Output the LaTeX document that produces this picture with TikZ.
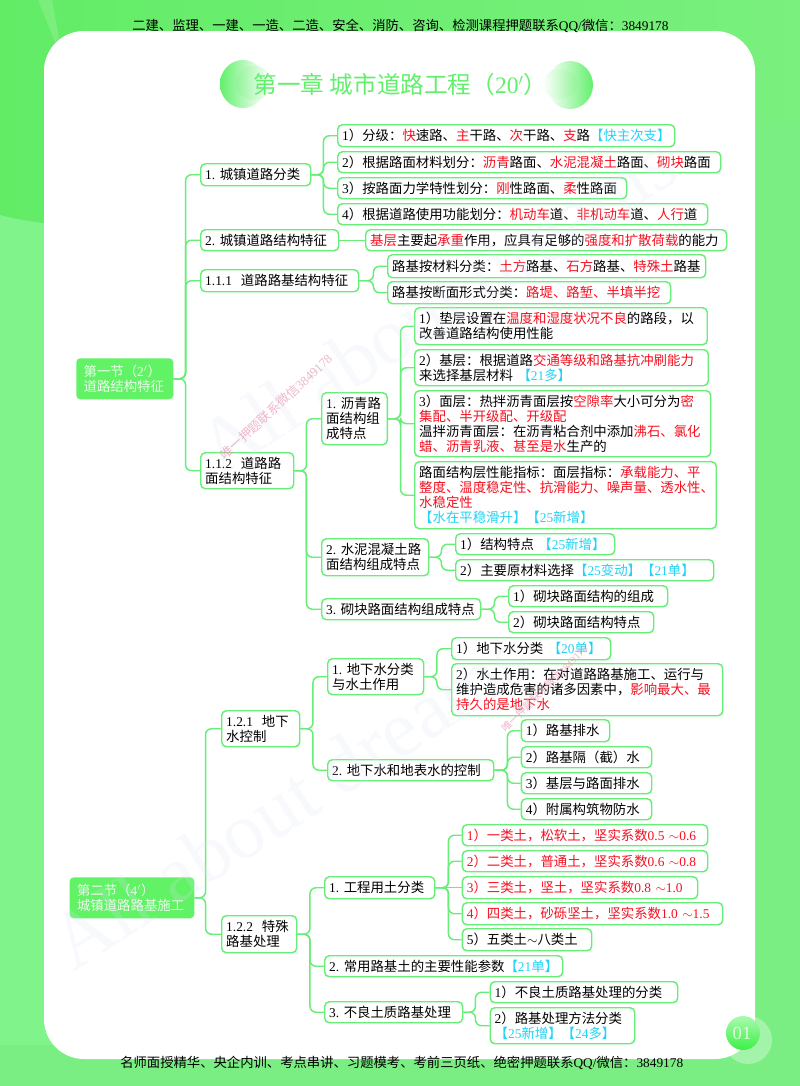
\documentclass[tikz,border=0pt]{standalone}
\usepackage{fontspec}
\setmainfont{Noto Sans CJK SC}
\newfontfamily\latf{Liberation Serif}
\usetikzlibrary{calc}
\definecolor{gline}{HTML}{66EE77}
\definecolor{gtitle}{HTML}{62F06C}
\definecolor{glabel}{HTML}{62F266}
\definecolor{rdc}{HTML}{F5101F}
\definecolor{cyc}{HTML}{22D3F5}
\definecolor{pinkw}{HTML}{E8A0B8}
\definecolor{faintw}{HTML}{D8E4F4}
\newcommand{\nm}[1]{{\latf #1}}
\newcommand{\rd}[1]{\textcolor{rdc}{#1}}
\newcommand{\cy}[1]{\textcolor{cyc}{#1}}
\newcommand{\rn}[1]{\textcolor{rdc}{\latf #1}}
\newcommand{\bodyf}{\fontsize{10.05}{11.25}\selectfont\lineskiplimit=-30pt\lineskip=0pt\relax}
\newcommand{\bx}[6]{%
  \pgfmathsetmacro\bxw{(#4-#2)*0.75}%
  \pgfmathsetmacro\bxh{(#5-#3)*0.75}%
  \pgfmathsetmacro\bxt{(#4-#2-9)*0.75}%
  \node[boxn,minimum width=\bxw pt,minimum height=\bxh pt,text width=\bxt pt] (#1) at (#2,#3) {#6};}
\newcommand{\lab}[6]{%
  \pgfmathsetmacro\bxw{(#4-#2)*0.75}%
  \pgfmathsetmacro\bxh{(#5-#3)*0.75}%
  \pgfmathsetmacro\bxt{(#4-#2-12)*0.75}%
  \node[labn,minimum width=\bxw pt,minimum height=\bxh pt,text width=\bxt pt] (#1) at (#2,#3) {#6};}
\newcommand{\lk}[3]{\draw[linkl] (#1.east) -- ++(#3,0) |- (#2.west);}
\tikzset{
  boxn/.style={draw=gline,line width=1.1pt,rounded corners=3.5pt,fill=white,anchor=north west,
    align=left,inner sep=0pt,text=black,font=\bodyf},
  labn/.style={fill=glabel,rounded corners=3pt,anchor=north west,align=left,inner sep=0pt,
    text=white!88!glabel,font=\bodyf},
  linkl/.style={draw=gline,line width=1.1pt,rounded corners=4.5pt},
  hdr/.style={anchor=west,inner sep=0pt,text=black,font=\fontsize{10}{12}\selectfont},
  mark1/.style={rotate=33,anchor=west,inner sep=0pt,text=faintw,opacity=.2,font=\latf\fontsize{60}{60}\selectfont},
  mark2/.style={rotate=43,anchor=west,inner sep=0pt,text=pinkw,opacity=.75,font=\fontsize{9.6}{10}\selectfont},
  mark3/.style={rotate=45,anchor=west,inner sep=0pt,text=pinkw,opacity=.75,font=\fontsize{7.6}{10}\selectfont},
}
\begin{document}
\begin{tikzpicture}[x=0.75pt,y=-0.75pt]
\useasboundingbox (0,0) rectangle (800,1086);
% background
\fill[fill={rgb,255:red,122;green,238;blue,130}] (0,0) rectangle (800,1086);
\fill[fill={rgb,255:red,128;green,244;blue,138}] (0,215) rectangle (60,1045);
\shade[left color={rgb,255:red,98;green,236;blue,102},right color={rgb,255:red,122;green,240;blue,126}]
  (0,0) -- (800,0) -- (800,120) -- (60,225) .. controls (40,223) and (20,220) .. (0,215) -- cycle;
\fill[white,opacity=.15] (38,0) -- (52,0) -- (59,38) -- (55,42) -- cycle;
\fill[white] (44,71) arc[start angle=180,end angle=270,radius=40] -- (715,31) arc[start angle=-90,end angle=0,radius=40]
  -- (755,1019) arc[start angle=0,end angle=90,radius=40] -- (84,1059) arc[start angle=90,end angle=180,radius=40] -- cycle;
% header and footer
\node[hdr] (hd) at (132,26) {二建、监理、一建、一造、二造、安全、消防、咨询、检测课程押题联系\nm{QQ/}微信：\nm{3849178}};
\node[hdr] (ft) at (120,1063) {名师面授精华、央企内训、考点串讲、习题模考、考前三页纸、绝密押题联系\nm{QQ/}微信：\nm{3849178}};
% title ornaments
\shade[left color=gtitle,right color=white] (243,84) ellipse (23 and 24);
\shade[left color=gtitle!70,right color=white] (254,83) ellipse (18 and 17);
\shade[right color=gtitle,left color=white] (570,85) ellipse (23 and 24);
\shade[right color=gtitle!70,left color=white] (560,84) ellipse (17 and 15);
\node[anchor=center,inner sep=0pt,text=gtitle,font=\fontsize{17.7}{20}\selectfont] (title) at (400.5,85) {第一章 城市道路工程（\nm{20$'$}）};
% page mark
\fill[white,opacity=.32] (748,1040) circle (24);
\shade[top color={rgb,255:red,170;green,250;blue,175},bottom color={rgb,255:red,60;green,240;blue,70}] (743,1033) circle (17);
\node[inner sep=0pt,text=white!85!green,font=\latf\fontsize{14}{14}\selectfont] (pg) at (742,1033) {01};
% labels
\lab{s1}{76}{358}{173}{399}{\hspace*{1pt}第一节（\nm{2$'$}）\\\hspace*{1pt}道路结构特征}
\lab{s2}{69.4}{877}{194}{918}{\hspace*{1pt}第二节（\nm{4$'$}）\\\hspace*{1pt}城镇道路路基施工}
% section one
\bx{a1}{200}{163}{310}{185}{\nm{1.~}城镇道路分类}
\bx{a11}{337}{124}{674}{146}{\nm{1}）分级：\rd{快}速路、\rd{主}干路、\rd{次}干路、\rd{支}路\cy{【快主次支】}}
\bx{a12}{337}{151}{720}{172}{\nm{2}）根据路面材料划分：\rd{沥青}路面、\rd{水泥混凝土}路面、\rd{砌块}路面}
\bx{a13}{337}{177}{626}{198}{\nm{3}）按路面力学特性划分：\rd{刚}性路面、\rd{柔}性路面}
\bx{a14}{337}{203}{707}{224}{\nm{4}）根据道路使用功能划分：\rd{机动车}道、\rd{非机动车}道、\rd{人行}道}
\bx{a2}{200}{229}{338}{250}{\nm{2.~}城镇道路结构特征}
\bx{a21}{365}{229}{726}{250}{\rd{基层}主要起\rd{承重}作用，应具有足够的\rd{强度和扩散荷载}的能力}
\bx{a3}{200}{269}{358}{291}{\nm{1.1.1~~}道路路基结构特征}
\bx{a31}{387}{254}{705}{277}{路基按材料分类：\rd{土方}路基、\rd{石方}路基、\rd{特殊土}路基}
\bx{a32}{387}{281}{670}{303}{路基按断面形式分类：\rd{路堤、路堑、半填半挖}}
\bx{a4}{200}{452}{293}{488}{\nm{1.1.2~~}道路路\\面结构特征}
\bx{b1}{321}{392}{386.6}{444}{\nm{1.~}沥青路\\面结构组\\成特点}
\bx{b11}{414}{307}{706.5}{344}{\nm{1}）垫层设置在\rd{温度和湿度状况不良}的路段，以\\改善道路结构使用性能}
\bx{b12}{414}{349}{707.5}{385}{\nm{2}）基层：根据道路\rd{交通等级和路基抗冲刷能力}\\来选择基层材料\nm{~}\cy{【\nm{21}多】}}
\bx{b13}{414}{390}{710}{456}{\nm{3}）面层：热拌沥青面层按\rd{空隙率}大小可分为\rd{密}\\\rd{集配、半开级配、开级配}\\温拌沥青面层：在沥青粘合剂中添加\rd{沸石、氯化}\\\rd{蜡、沥青乳液、甚至是水}生产的}
\bx{b14}{414}{461}{715.5}{528}{路面结构层性能指标：面层指标：\rd{承载能力、平}\\\rd{整度、温度稳定性、抗滑能力、噪声量、透水性、}\\\rd{水稳定性}\\\cy{【水在平稳滑升】【\nm{25}新增】}}
\bx{b2}{321}{538}{428}{575}{\nm{2.~}水泥混凝土路\\面结构组成特点}
\bx{b21}{455}{533}{614}{554}{\nm{1}）结构特点\nm{~}\cy{【\nm{25}新增】}}
\bx{b22}{455}{559}{713}{580}{\nm{2}）主要原材料选择\cy{【\nm{25}变动】【\nm{21}单】}}
\bx{b3}{321}{598}{480}{619}{\nm{3.~}砌块路面结构组成特点}
\bx{b31}{508}{585}{667}{606}{\nm{1}）砌块路面结构的组成}
\bx{b32}{508}{611}{653}{632}{\nm{2}）砌块路面结构特点}
% section two
\bx{c1}{221}{710}{299}{746}{\nm{1.2.1~~}地下\\水控制}
\bx{d1}{327}{658}{423}{694}{\nm{1.~}地下水分类\\与水土作用}
\bx{d11}{451}{637}{610}{659}{\nm{1}）地下水分类\nm{~}\cy{【\nm{20}单】}}
\bx{d12}{451}{663}{722}{715}{\nm{2}）水土作用：在对道路路基施工、运行与\\维护造成危害的诸多因素中，\rd{影响最大、最}\\\rd{持久的是地下水}}
\bx{d2}{327}{759}{493}{780}{\nm{2.~}地下水和地表水的控制}
\bx{d21}{520.6}{719}{609}{741}{\nm{1}）路基排水}
\bx{d22}{520.6}{746}{651}{767}{\nm{2}）路基隔（截）水}
\bx{d23}{520.6}{772}{651}{793}{\nm{3}）基层与路面排水}
\bx{d24}{520.6}{798}{651}{819}{\nm{4}）附属构筑物防水}
\bx{c2}{221}{915}{296}{952}{\nm{1.2.2~~}特殊\\路基处理}
\bx{e1}{324}{876}{434}{898}{\nm{1.~}工程用土分类}
\bx{e11}{461.6}{824}{707}{845}{\rn{1}\rd{）一类土，松软土，坚实系数}\rn{0.5~$\sim$0.6}}
\bx{e12}{461.6}{850}{707}{871}{\rn{2}\rd{）二类土，普通土，坚实系数}\rn{0.6~$\sim$0.8}}
\bx{e13}{461.6}{876}{697}{898}{\rn{3}\rd{）三类土，坚土，坚实系数}\rn{0.8~$\sim$1.0}}
\bx{e14}{461.6}{902}{722}{924}{\rn{4}\rd{）四类土，砂砾坚土，坚实系数}\rn{1.0~$\sim$1.5}}
\bx{e15}{461.6}{928}{591}{950}{\nm{5}）五类土$\sim$八类土}
\bx{e2}{324}{955}{562}{976}{\nm{2.~}常用路基土的主要性能参数\cy{【\nm{21}单】}}
\bx{e3}{324}{1001}{462}{1022}{\nm{3.~}不良土质路基处理}
\bx{e31}{489.5}{981}{677}{1002}{\nm{1}）不良土质路基处理的分类}
\bx{e32}{489.5}{1007}{634}{1043}{\nm{2}）路基处理方法分类\\\cy{【\nm{25}新增】【\nm{24}多】}}
% connectors
\foreach \p/\c/\d in {s1/a1/12,s1/a2/12,s1/a3/12,s1/a4/12,
  a1/a11/12,a1/a12/12,a1/a13/12,a1/a14/12,a3/a31/14,a3/a32/14,
  a4/b1/12,a4/b2/12,a4/b3/12,b1/b11/12.5,b1/b12/12.5,b1/b13/12.5,b1/b14/12.5,
  b2/b21/12,b2/b22/12,b3/b31/13,b3/b32/13,
  s2/c1/11,s2/c2/11,c1/d1/12.5,c1/d2/12.5,d1/d11/12.5,d1/d12/12.5,
  d2/d21/13,d2/d22/13,d2/d23/13,d2/d24/13,
  c2/e1/12.5,c2/e2/12.5,c2/e3/12.5,e1/e11/13,e1/e12/13,e1/e14/13,e1/e15/13,
  e3/e31/12,e3/e32/12}{\lk{\p}{\c}{\d}}
\draw[linkl] (a2.east) -- (a21.west);
\draw[linkl] (e1.east) -- (e13.west);
% watermarks
\node[mark1] (wm1) at (58,950) {All about dreams};
\node[mark1] (wm2) at (205,455) {All about dreams};
\node[mark2] (wm3) at (222,457) {唯一押题联系微信\nm{3849178}};
\node[mark3] (wm4) at (503,730) {唯一押题联系微信\nm{3849178}};
\end{tikzpicture}
\end{document}
